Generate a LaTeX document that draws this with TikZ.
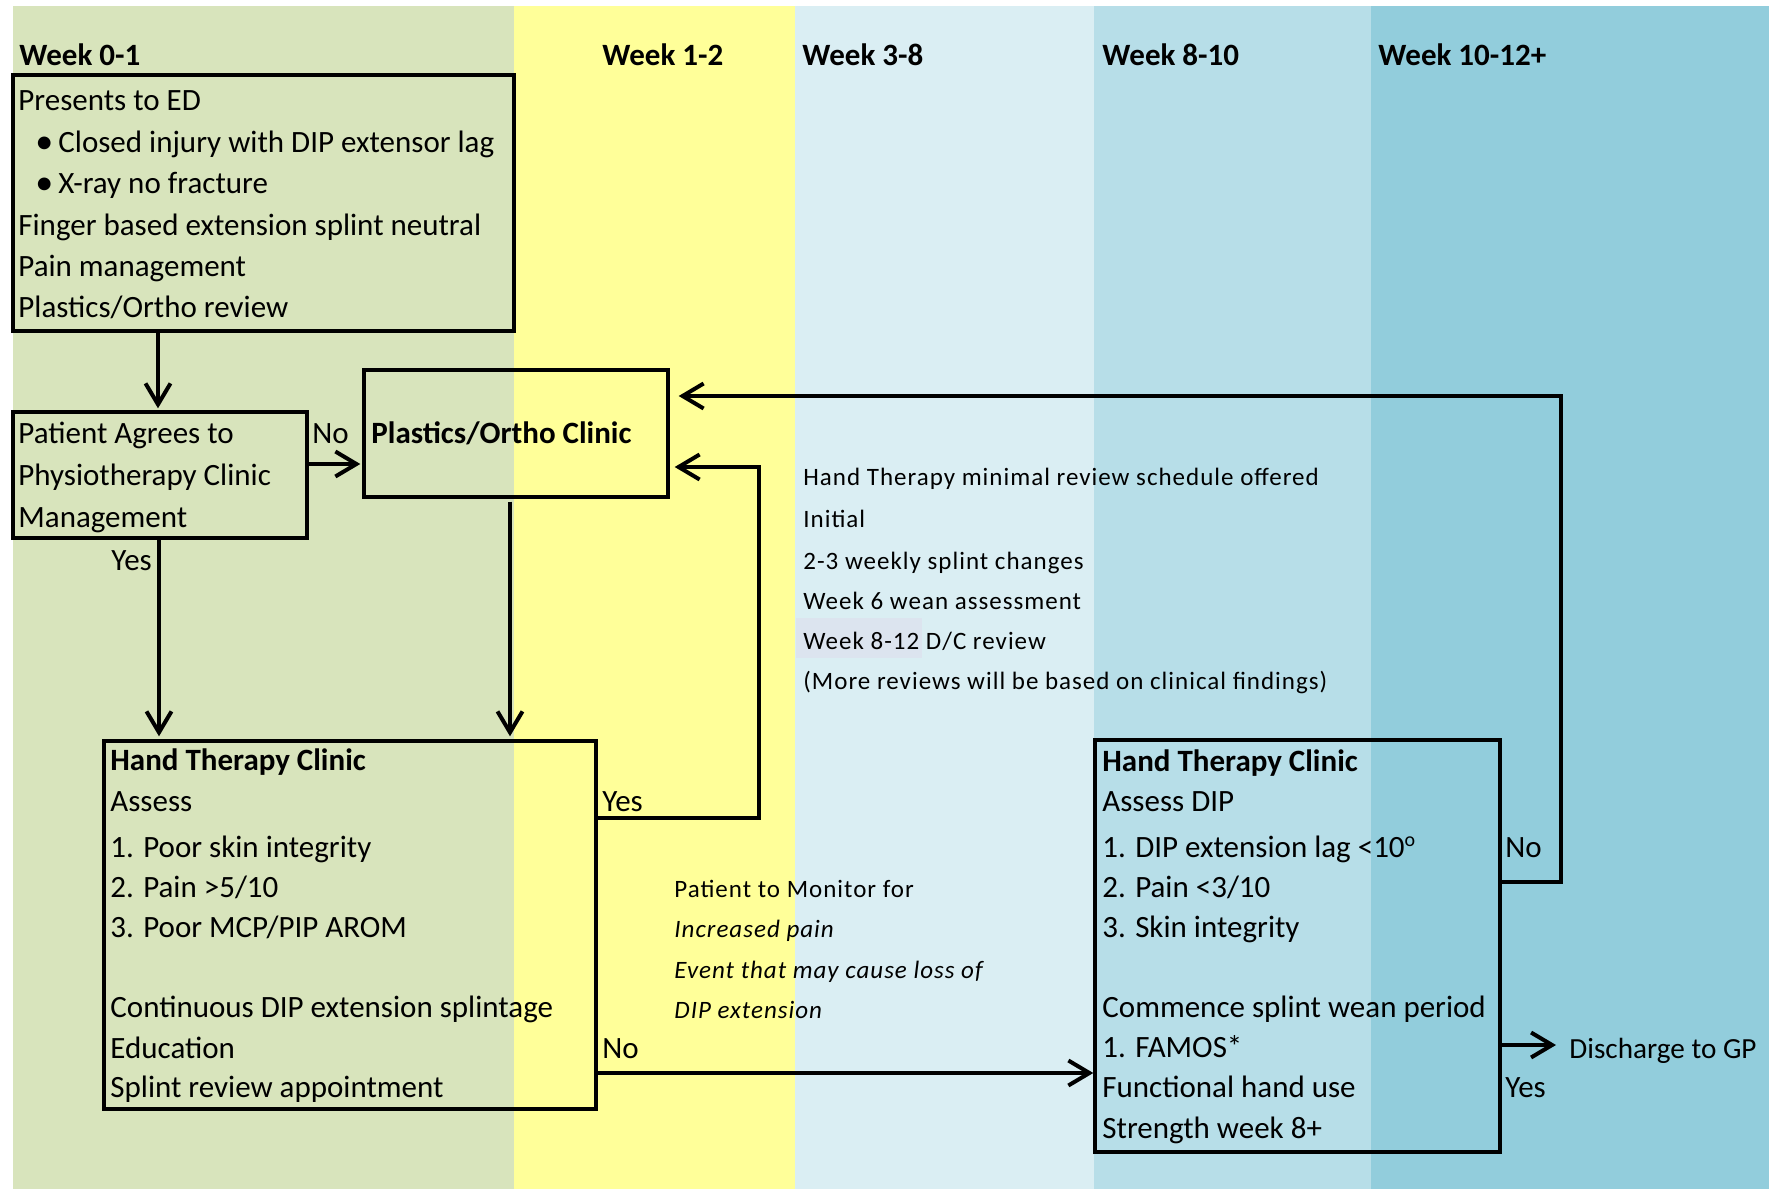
\documentclass[tikz,border=0pt]{standalone}
\usepackage{fontspec}
\setmainfont{Carlito}
\newfontfamily\spacedfont[LetterSpace=4]{Carlito}
\usetikzlibrary{arrows.meta,fit}
\definecolor{cgreen}{HTML}{D8E4BC}
\definecolor{cyellow}{HTML}{FFFF99}
\definecolor{clight}{HTML}{DAEEF3}
\definecolor{cmid}{HTML}{B7DEE8}
\definecolor{cdark}{HTML}{92CDDC}
\definecolor{chigh}{HTML}{DCE4EF}
\newcommand\bodyf{\fontsize{15.5}{18}\selectfont}
\newcommand\midf{\spacedfont\fontsize{12.5}{15}\selectfont}
\tikzset{
  boxnode/.style={draw=black, line width=1.7pt, inner sep=0pt, fill=none},
  txt/.style={anchor=base west, inner sep=0pt, font=\bodyf},
  btxt/.style={anchor=base west, inner sep=0pt, font=\bodyf\bfseries},
  mtxt/.style={anchor=base west, inner sep=0pt, font=\midf},
  mitxt/.style={anchor=base west, inner sep=0pt, font=\midf\itshape},
  arr/.style={line width=2pt, -{Straight Barb[length=10.5pt,width=12.5pt,line width=2pt]}},
}
\begin{document}
\begin{tikzpicture}[x=0.5pt,y=-0.5pt]
\useasboundingbox (0,0) rectangle (1769,1189);
% background columns
\fill[cgreen] (13,6) rectangle (514,1189);
\fill[cyellow] (514,6) rectangle (795,1189);
\fill[clight] (795,6) rectangle (1094,1189);
\fill[cmid] (1094,6) rectangle (1371,1189);
\fill[cdark] (1371,6) rectangle (1769,1189);
\fill[chigh] (796,618) rectangle (922,658);
% week headers
\node[btxt] (w1) at (19,65) {Week 0-1};
\node[btxt] (w2) at (602,65) {Week 1-2};
\node[btxt] (w3) at (802,65) {Week 3-8};
\node[btxt] (w4) at (1102,65) {Week 8-10};
\node[btxt] (w5) at (1378,65) {Week 10-12+};
% boxes
\coordinate (b1a) at (13,75); \coordinate (b1b) at (514,331);
\node[boxnode, fit=(b1a)(b1b)] (b1) {};
\coordinate (b2a) at (13,412); \coordinate (b2b) at (307,538);
\node[boxnode, fit=(b2a)(b2b)] (b2) {};
\coordinate (b3a) at (364,370); \coordinate (b3b) at (668,497);
\node[boxnode, fit=(b3a)(b3b)] (b3) {};
\coordinate (b5a) at (104,741); \coordinate (b5b) at (596,1109);
\node[boxnode, fit=(b5a)(b5b)] (b5) {};
\coordinate (b4a) at (1095,740); \coordinate (b4b) at (1500,1152);
\node[boxnode, fit=(b4a)(b4b)] (b4) {};
% box 1 text
\node[txt] (t11) at (18,110) {Presents to ED};
\node[txt, font=\fontsize{18}{18}\selectfont] (t12b) at (35,153) {•};
\node[txt] (t12) at (58,152) {Closed injury with DIP extensor lag};
\node[txt, font=\fontsize{18}{18}\selectfont] (t13b) at (35,194) {•};
\node[txt] (t13) at (58,193) {X-ray no fracture};
\node[txt] (t14) at (18,235) {Finger based extension splint neutral};
\node[txt] (t15) at (18,276) {Pain management};
\node[txt] (t16) at (18,317) {Plastics/Ortho review};
% box 2 text
\node[txt] (t21) at (18,443) {Patient Agrees to};
\node[txt] (t22) at (18,485) {Physiotherapy Clinic};
\node[txt] (t23) at (18,527) {Management};
\node[txt] (lno1) at (312,443) {No};
\node[txt] (lyes1) at (111,570) {Yes};
% box 3 text
\node[btxt] (t31) at (371,443) {Plastics/Ortho Clinic};
% middle text
\node[mtxt] (m1) at (803,485) {Hand Therapy minimal review schedule offered};
\node[mtxt] (m2) at (803,527) {Initial};
\node[mtxt] (m3) at (803,569) {2-3 weekly splint changes};
\node[mtxt] (m4) at (803,609) {Week 6 wean assessment};
\node[mtxt] (m5) at (803,649) {Week 8-12 D/C review};
\node[mtxt] (m6) at (803,689) {(More reviews will be based on clinical findings)};
% box 5 text
\node[btxt] (t51) at (110,770) {Hand Therapy Clinic};
\node[txt] (t52) at (110,811) {Assess};
\node[txt] (t53) at (110,857) {1. Poor skin integrity};
\node[txt] (t54) at (110,897) {2. Pain >5/10};
\node[txt] (t55) at (110,937) {3. Poor MCP/PIP AROM};
\node[txt] (t56) at (110,1017) {Continuous DIP extension splintage};
\node[txt] (t57) at (110,1058) {Education};
\node[txt] (t58) at (110,1097) {Splint review appointment};
\node[txt] (lyes2) at (602,811) {Yes};
\node[txt] (lno2) at (602,1058) {No};
% monitor text
\node[mtxt] (n1) at (674,897) {Patient to Monitor for};
\node[mitxt] (n2) at (674,937) {Increased pain};
\node[mitxt] (n3) at (674,978) {Event that may cause loss of};
\node[mitxt] (n4) at (674,1018) {DIP extension};
% box 4 text
\node[btxt] (t41) at (1102,771) {Hand Therapy Clinic};
\node[txt] (t42) at (1102,811) {Assess DIP};
\node[txt] (t43) at (1102,857) {1. DIP extension lag <10\textsuperscript{\fontsize{10}{10}\selectfont o}};
\node[txt] (t44) at (1102,897) {2. Pain <3/10};
\node[txt] (t45) at (1102,937) {3. Skin integrity};
\node[txt] (t46) at (1102,1017) {Commence splint wean period};
\node[txt] (t47) at (1102,1057) {1. FAMOS*};
\node[txt] (t48) at (1102,1097) {Functional hand use};
\node[txt] (t49) at (1102,1138) {Strength week 8+};
\node[txt] (lno3) at (1505,857) {No};
\node[txt] (lyes3) at (1505,1097) {Yes};
\node[txt, font=\fontsize{14.6}{17}\selectfont] (dis) at (1569,1058) {Discharge to GP};
% connectors
\coordinate (p1) at (158,0);
\draw[arr, shorten >=1pt] (b1.south -| p1) -- (b2.north -| p1);
\coordinate (p2) at (0,464);
\draw[arr, shorten >=1pt] (b2.east |- p2) -- (b3.west |- p2);
\coordinate (p3) at (159,0);
\draw[arr, shorten >=1.5pt] (b2.south -| p3) -- (b5.north -| p3);
\coordinate (p4) at (510,0);
\draw[arr, shorten <=1.5pt, shorten >=1.5pt] (b3.south -| p4) -- (b5.north -| p4);
\coordinate (c5a) at (759,818); \coordinate (c5b) at (759,467);
\draw[arr, shorten >=2.5pt] (b5.east |- c5a) -- (c5a) -- (c5b) -- (b3.east |- c5b);
\coordinate (p6) at (0,1073);
\draw[arr] (b5.east |- p6) -- (b4.west |- p6);
\coordinate (c7a) at (1561,882); \coordinate (c7b) at (1561,396);
\draw[arr, shorten >=4.5pt] (b4.east |- c7a) -- (c7a) -- (c7b) -- (b3.east |- c7b);
\coordinate (p8) at (0,1045);
\draw[arr, shorten >=6.5pt] (b4.east |- p8) -- (dis.west |- p8);
\end{tikzpicture}
\end{document}
